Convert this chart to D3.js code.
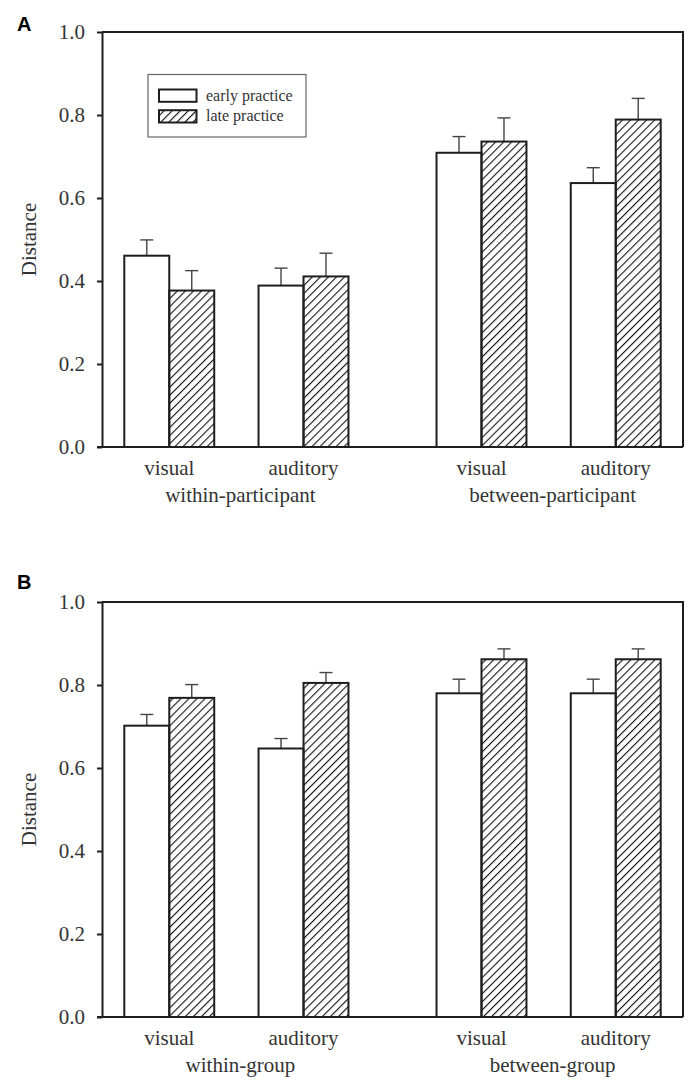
<!DOCTYPE html>
<html>
<head>
<meta charset="utf-8">
<script src="https://cdn.jsdelivr.net/npm/d3@7"></script>
<style>
  html, body { margin: 0; padding: 0; background: #fff; }
  svg { display: block; }
</style>
</head>
<body>
<svg id="chart" width="693" height="1088"></svg>
<script>
// ---- data ----
const panelLabels = ["A", "B"];
const modalities = ["visual", "auditory"];
const conditions = ["early practice", "late practice"];
const groupsA = ["within-participant", "between-participant"];
const groupsB = ["within-group", "between-group"];
// order: within-visual, within-auditory, between-visual, between-auditory
const earlyA = [0.461, 0.389, 0.709, 0.636];
const lateA = [0.377, 0.411, 0.736, 0.789];
const earlyErrA = [0.038, 0.042, 0.039, 0.037];
const lateErrA = [0.048, 0.056, 0.057, 0.051];
const earlyB = [0.702, 0.647, 0.780, 0.780];
const lateB = [0.769, 0.805, 0.862, 0.862];
const earlyErrB = [0.027, 0.024, 0.034, 0.034];
const lateErrB = [0.032, 0.025, 0.025, 0.025];
const yTicks = [0.0, 0.2, 0.4, 0.6, 0.8, 1.0];
const yLabel = "Distance";

// ---- drawing ----
const svg = d3.select("#chart");
const defs = svg.append("defs");
defs.append("pattern")
  .attr("id", "hatch")
  .attr("patternUnits", "userSpaceOnUse")
  .attr("width", 5.7).attr("height", 5.7)
  .attr("patternTransform", "rotate(45)")
  .append("line")
  .attr("x1", 0).attr("y1", -1).attr("x2", 0).attr("y2", 7)
  .attr("stroke", "#111").attr("stroke-width", 2.2);

const ink = "#1e1e1e";
const textCol = "#333";
const serif = "'Liberation Serif', 'Times New Roman', serif";

function drawPanel(cfg) {
  const { label, groups, early, late, earlyErr, lateErr, top, bottom, labelY, legend } = cfg;
  const left = 102, right = 683;
  const g = svg.append("g");

  const y = d3.scaleLinear().domain([0, 1]).range([bottom, top]);
  const outer = d3.scaleBand().domain(groups).range([left, right])
    .paddingInner(0.282).paddingOuter(0.0714);
  const inner = d3.scaleBand().domain(modalities).range([0, outer.bandwidth()])
    .paddingInner(0.33).paddingOuter(0);
  const cond = d3.scaleBand().domain(conditions).range([0, inner.bandwidth()]).padding(0);

  // records
  const recs = [];
  groups.forEach((gr, gi) => {
    modalities.forEach((m, mi) => {
      const i = gi * 2 + mi;
      recs.push({ group: gr, mod: m, cond: conditions[0], v: early[i], e: earlyErr[i] });
      recs.push({ group: gr, mod: m, cond: conditions[1], v: late[i], e: lateErr[i] });
    });
  });
  const bx = d => outer(d.group) + inner(d.mod) + cond(d.cond);

  // error bars (behind bars)
  const eb = g.append("g").attr("stroke", "#444").attr("stroke-width", 1.4).attr("fill", "none");
  recs.forEach(d => {
    const cx = bx(d) + cond.bandwidth() / 2;
    eb.append("line").attr("x1", cx).attr("x2", cx).attr("y1", y(d.v)).attr("y2", y(d.v + d.e));
    eb.append("line").attr("x1", cx - 6.5).attr("x2", cx + 6.5).attr("y1", y(d.v + d.e)).attr("y2", y(d.v + d.e));
  });

  // bars
  g.append("g").selectAll("rect").data(recs).join("rect")
    .attr("x", d => bx(d))
    .attr("y", d => y(d.v))
    .attr("width", cond.bandwidth())
    .attr("height", d => y(0) - y(d.v))
    .attr("fill", d => d.cond === conditions[0] ? "#fff" : "url(#hatch)")
    .attr("stroke", ink).attr("stroke-width", 2);

  // frame (top and right)
  g.append("path")
    .attr("d", `M${left},${top}H${right}V${bottom}`)
    .attr("fill", "none").attr("stroke", ink).attr("stroke-width", 2);

  // left axis
  const ax = g.append("g").attr("transform", `translate(${left},0)`)
    .call(d3.axisLeft(y).tickValues(yTicks).tickFormat(d3.format(".1f")).tickSize(5).tickSizeOuter(0).tickPadding(12));
  ax.select(".domain").attr("stroke", ink).attr("stroke-width", 2);
  ax.selectAll(".tick line").attr("stroke", ink).attr("stroke-width", 2);
  ax.selectAll(".tick text").attr("fill", textCol).style("font-family", serif).style("font-size", "21px");

  // bottom line
  g.append("line").attr("x1", left - 5).attr("x2", right).attr("y1", bottom).attr("y2", bottom)
    .attr("stroke", ink).attr("stroke-width", 2);

  // x labels
  groups.forEach(gr => {
    modalities.forEach(m => {
      g.append("text")
        .attr("x", outer(gr) + inner(m) + inner.bandwidth() / 2)
        .attr("y", bottom + 28)
        .attr("text-anchor", "middle")
        .attr("fill", textCol)
        .style("font-family", serif).style("font-size", "21px")
        .text(m);
    });
    g.append("text")
      .attr("x", outer(gr) + outer.bandwidth() / 2 + 4)
      .attr("y", bottom + 55)
      .attr("text-anchor", "middle")
      .attr("fill", textCol)
      .style("font-family", serif).style("font-size", "21px")
      .text(gr);
  });

  // y label
  g.append("text")
    .attr("transform", `translate(36,${(top + bottom) / 2}) rotate(-90)`)
    .attr("text-anchor", "middle")
    .attr("fill", textCol)
    .style("font-family", serif).style("font-size", "21px")
    .text(yLabel);

  // panel letter
  g.append("text")
    .attr("x", 17).attr("y", labelY)
    .attr("fill", "#000")
    .style("font-family", "'Liberation Sans', Arial, sans-serif")
    .style("font-weight", "bold").style("font-size", "20px")
    .text(label);

  if (legend) {
    const lg = g.append("g");
    lg.append("rect").attr("x", 148).attr("y", 74.5).attr("width", 158).attr("height", 62.5)
      .attr("fill", "#fff").attr("stroke", "#666").attr("stroke-width", 1.2);
    conditions.forEach((c, i) => {
      const yy = 89.5 + i * 20.7;
      lg.append("rect").attr("x", 159).attr("y", yy).attr("width", 37.5).attr("height", 12.3)
        .attr("fill", i === 0 ? "#fff" : "url(#hatch)")
        .attr("stroke", ink).attr("stroke-width", 2);
      lg.append("text").attr("x", 206).attr("y", yy + 11)
        .attr("fill", textCol)
        .style("font-family", serif).style("font-size", "16px")
        .text(c);
    });
  }
}

drawPanel({ label: panelLabels[0], groups: groupsA, early: earlyA, late: lateA,
  earlyErr: earlyErrA, lateErr: lateErrA, top: 32, bottom: 447, labelY: 31, legend: true });
drawPanel({ label: panelLabels[1], groups: groupsB, early: earlyB, late: lateB,
  earlyErr: earlyErrB, lateErr: lateErrB, top: 602, bottom: 1017, labelY: 589, legend: false });
</script>
</body>
</html>
